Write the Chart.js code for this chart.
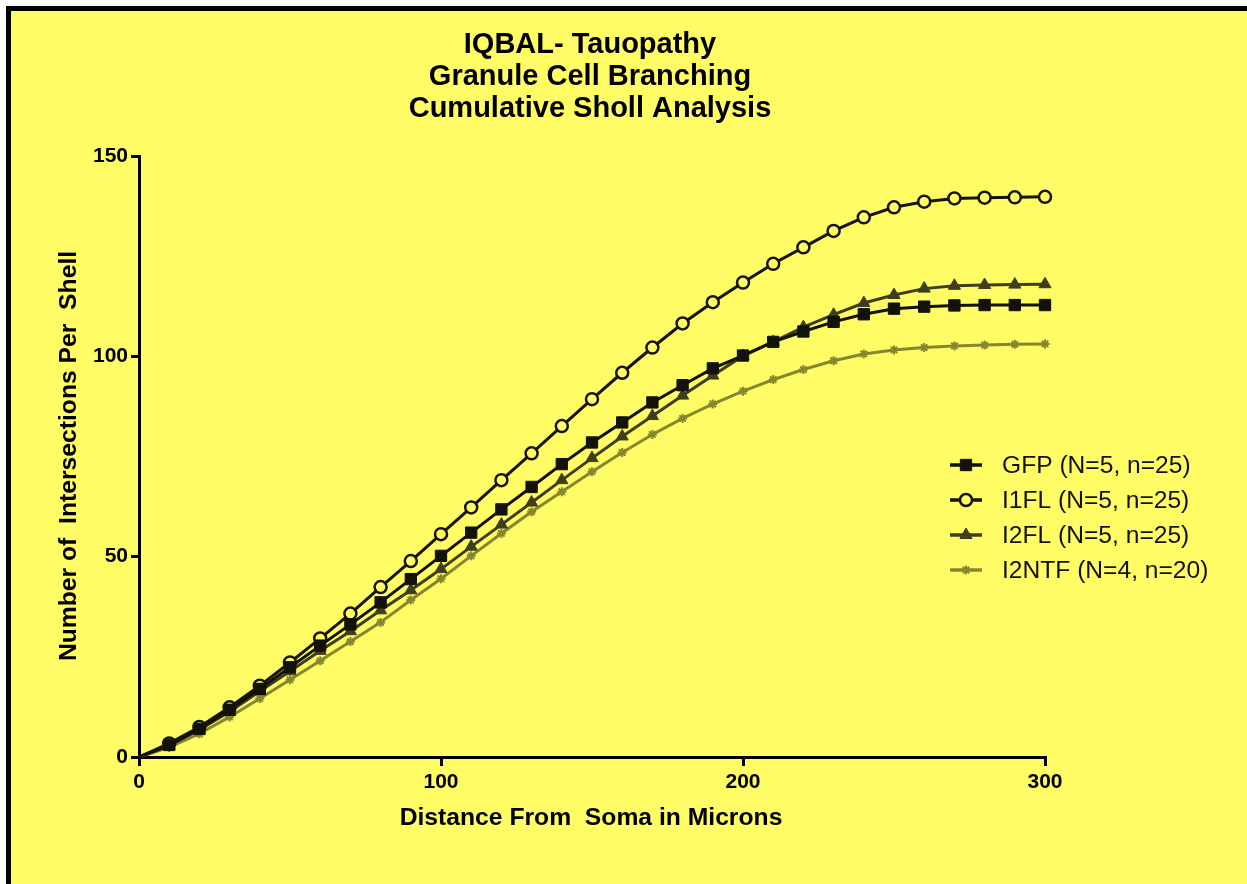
<!DOCTYPE html>
<html><head><meta charset="utf-8">
<script src="https://cdn.jsdelivr.net/npm/chart.js@4.4.0/dist/chart.umd.min.js"></script>
<style>html,body{margin:0;padding:0;background:#fff;overflow:hidden}#wrap{position:absolute;left:0;top:0;width:1247px;height:884px}</style>
</head><body><div id="wrap"><canvas id="c" width="1247" height="884"></canvas></div>
<script>
const distances = [0,10,20,30,40,50,60,70,80,90,100,110,120,130,140,150,160,170,180,190,200,210,220,230,240,250,260,270,280,290,300];
const gfp   = [0,3.0,7.0,11.8,17.0,22.4,27.8,33.1,38.6,44.4,50.2,56.0,61.8,67.4,73.1,78.5,83.5,88.5,92.8,97.0,100.2,103.6,106.2,108.6,110.5,111.9,112.4,112.7,112.8,112.8,112.8];
const i1fl  = [0,3.4,7.5,12.4,17.8,23.6,29.6,35.8,42.4,48.9,55.6,62.3,69.1,75.8,82.6,89.3,95.9,102.2,108.2,113.5,118.4,123.1,127.2,131.3,134.7,137.2,138.6,139.4,139.6,139.7,139.8];
const i2fl  = [0,2.8,6.8,11.3,16.4,21.4,26.5,31.4,36.6,41.6,46.9,52.5,58.0,63.5,69.1,74.6,80.0,85.1,90.2,95.2,100.1,103.6,107.3,110.4,113.3,115.3,116.9,117.6,117.8,117.9,118.0];
const i2ntf = [0,2.4,5.8,10.0,14.6,19.3,24.0,28.8,33.6,39.2,44.5,50.2,55.8,61.2,66.2,71.2,76.0,80.5,84.5,88.1,91.3,94.2,96.7,98.9,100.6,101.6,102.2,102.6,102.8,103.0,103.1];
const seriesLabels = ['GFP (N=5, n=25)','I1FL (N=5, n=25)','I2FL (N=5, n=25)','I2NTF (N=4, n=20)'];
const titleLines = ['IQBAL- Tauopathy','Granule Cell Branching','Cumulative Sholl Analysis'];
const xTitle = 'Distance From  Soma in Microns';
const yTitle = 'Number of  Intersections Per  Shell';
const xTicks = [0,100,200,300];
const yTicks = [0,50,100,150];

const FONT = '"Liberation Sans", Arial, sans-serif';
const BG = '#FFFC66';
const pts = arr => distances.map((d,i)=>({x:d,y:arr[i]}));
const radii = r => distances.map((d,i)=> i===0 ? 0 : r);

const datasets = [
  {label:seriesLabels[0], data:pts(gfp), borderColor:'#121208', backgroundColor:'#121208', pointStyle:'rect', pointRadius:radii(8), pointBorderWidth:1, borderWidth:3, legR:8},
  {label:seriesLabels[1], data:pts(i1fl), borderColor:'#15150a', backgroundColor:BG, pointBackgroundColor:BG, pointStyle:'circle', pointRadius:radii(6), pointBorderWidth:2.5, borderWidth:3, legR:6},
  {label:seriesLabels[2], data:pts(i2fl), borderColor:'#3e3e1c', backgroundColor:'#3e3e1c', pointStyle:'triangle', pointRadius:radii(7), pointBorderWidth:1, borderWidth:3, legR:7},
  {label:seriesLabels[3], data:pts(i2ntf), borderColor:'#86862f', backgroundColor:'#86862f', pointStyle:'star', pointRadius:radii(4.5), pointBorderWidth:2, borderWidth:3, legR:4.5}
];
datasets.forEach(d=>{d.tension=0; d.clip=false; d.fill=false; d.pointHoverRadius=0;});

const decor = {
  id:'decor',
  beforeDraw(chart){
    const ctx = chart.ctx;
    ctx.save();
    ctx.fillStyle='#fff'; ctx.fillRect(0,0,1247,884);
    ctx.fillStyle='#000'; ctx.fillRect(6,6,1241,5); ctx.fillRect(6,6,5,878);
    ctx.fillStyle=BG; ctx.fillRect(11,11,1236,873);
    ctx.restore();
  },
  afterDraw(chart){
    const ctx = chart.ctx;
    ctx.save();
    ctx.fillStyle='#000';
    ctx.textAlign='center'; ctx.textBaseline='alphabetic';
    ctx.font='bold 29px '+FONT;
    const tb=[53,85,117];
    titleLines.forEach((t,i)=>ctx.fillText(t,590,tb[i]));
    ctx.font='bold 24.7px '+FONT;
    ctx.fillText(xTitle,591,825);
    ctx.save();
    ctx.translate(76,456); ctx.rotate(-Math.PI/2);
    ctx.fillText(yTitle,0,0);
    ctx.restore();
    // legend
    const rows=[465,500,535,570];
    chart.data.datasets.forEach((d,i)=>{
      const y=rows[i];
      ctx.strokeStyle=d.borderColor; ctx.lineWidth=3.5;
      ctx.beginPath(); ctx.moveTo(950,y); ctx.lineTo(982,y); ctx.stroke();
      ctx.fillStyle=d.pointBackgroundColor||d.backgroundColor;
      ctx.lineWidth=d.pointBorderWidth;
      Chart.helpers.drawPoint(ctx,{pointStyle:d.pointStyle,radius:d.legR,rotation:0,borderWidth:d.pointBorderWidth},966,y);
      ctx.fillStyle='#111'; ctx.textAlign='left'; ctx.textBaseline='middle';
      ctx.font='24.6px '+FONT;
      ctx.fillText(d.label,1002,y+1);
    });
    ctx.restore();
  }
};

new Chart(document.getElementById('c'),{
  type:'line',
  data:{datasets},
  options:{
    responsive:false, animation:false, devicePixelRatio:1,
    layout:{padding:{left:0,top:156,right:202,bottom:0}},
    plugins:{legend:{display:false},title:{display:false},tooltip:{enabled:false}},
    scales:{
      x:{type:'linear',min:0,max:300,
        afterFit(s){s.height=127;},
        afterBuildTicks(s){s.ticks=xTicks.map(v=>({value:v}));},
        border:{display:true,color:'#000',width:3},
        grid:{display:true,drawOnChartArea:false,drawTicks:true,tickLength:9,color:'#000',lineWidth:3},
        ticks:{color:'#000',font:{family:FONT,weight:'bold',size:21},padding:4,maxRotation:0}
      },
      y:{type:'linear',min:0,max:150,
        afterFit(s){s.width=139;},
        afterBuildTicks(s){s.ticks=yTicks.map(v=>({value:v}));},
        border:{display:true,color:'#000',width:3},
        grid:{display:true,drawOnChartArea:false,drawTicks:true,tickLength:8,color:'#000',lineWidth:3},
        ticks:{color:'#000',font:{family:FONT,weight:'bold',size:21},padding:3}
      }
    }
  },
  plugins:[decor]
});
</script></body></html>
